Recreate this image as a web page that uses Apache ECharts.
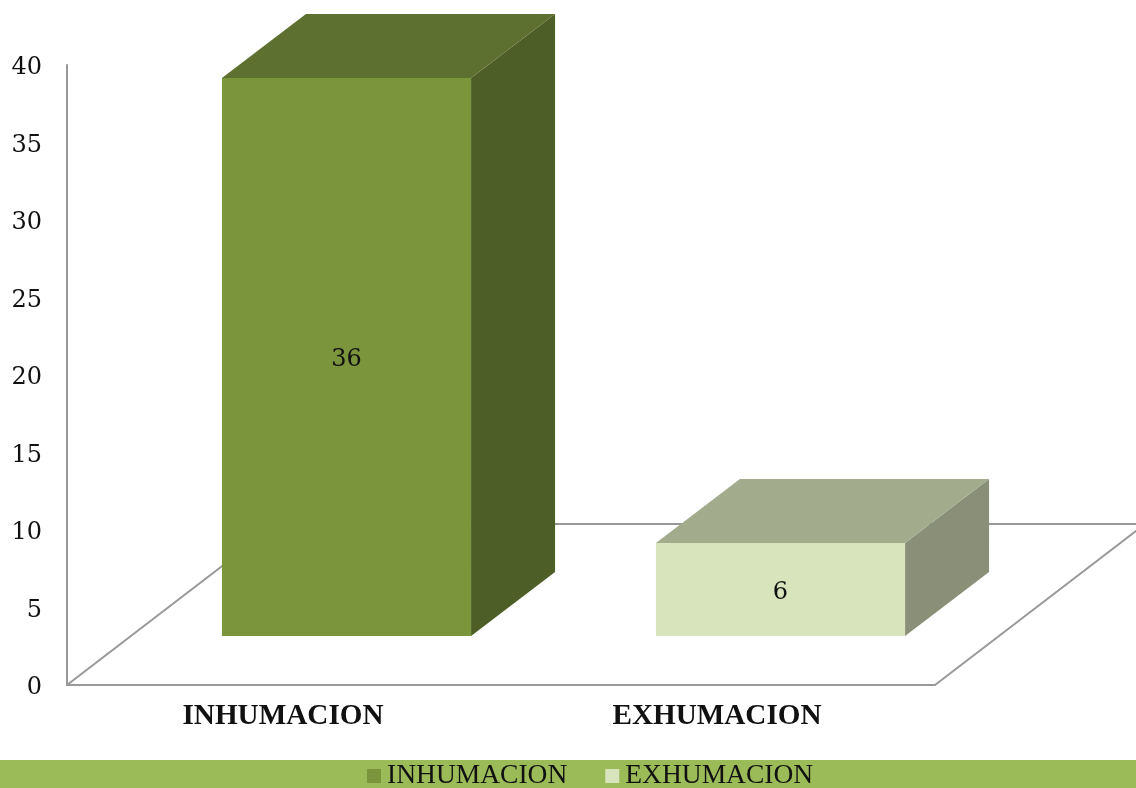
<!DOCTYPE html>
<html>
<head>
<meta charset="utf-8">
<style>
html, body { margin: 0; padding: 0; background: #fff; }
#chart { width: 1136px; height: 788px; }
</style>
<script src="https://cdn.jsdelivr.net/npm/echarts@6/dist/echarts.min.js"></script>
</head>
<body>
<div id="chart"></div>
<script>
const categories = ['INHUMACION', 'EXHUMACION'];
const inhumacion = [[categories[0], 36]];
const exhumacion = [[categories[1], 6]];

const NUM_FONT = 'DejaVu Serif';
const TEXT_FONT = 'Liberation Serif';
const LINE = '#999999';

// perspective offsets of the fake 3d box, in px
const FRONT_DX = 62.5, FRONT_DY = 49;
const DEPTH_DX = 84, DEPTH_DY = 64;
const FLOOR_DX = 210, FLOOR_DY = 161;
const BAR_RATIO = 0.574;

function boxRenderer(front, side, top) {
  return function (params, api) {
    const base = api.coord([api.value(0), 0]);
    const head = api.coord([api.value(0), api.value(1)]);
    const w = api.size([1, 0])[0] * BAR_RATIO;
    const x0 = base[0] + FRONT_DX - w / 2;
    const x1 = x0 + w;
    const y0 = base[1] - FRONT_DY;
    const y1 = head[1] - FRONT_DY;
    return {
      type: 'group',
      children: [
        { type: 'polygon', shape: { points: [[x1, y1], [x1 + DEPTH_DX, y1 - DEPTH_DY], [x1 + DEPTH_DX, y0 - DEPTH_DY], [x1, y0]] }, style: { fill: side } },
        { type: 'polygon', shape: { points: [[x0, y1], [x0 + DEPTH_DX, y1 - DEPTH_DY], [x1 + DEPTH_DX, y1 - DEPTH_DY], [x1, y1]] }, style: { fill: top } },
        { type: 'rect', shape: { x: x0, y: y1, width: w, height: y0 - y1 }, style: { fill: front } },
        {
          type: 'text',
          style: {
            text: String(api.value(1)),
            x: (x0 + x1) / 2,
            y: (y0 + y1) / 2 + 3,
            align: 'center',
            verticalAlign: 'middle',
            fontFamily: NUM_FONT,
            fontSize: 24,
            fill: '#111'
          }
        }
      ]
    };
  };
}

function floorRenderer(params, api) {
  const o = api.coord([0, 0]);
  const size = api.size([1, 0])[0];
  const x0 = o[0] - size / 2;
  const x1 = o[0] + size * 1.5;
  return {
    type: 'polyline',
    shape: {
      points: [
        [x0, o[1]],
        [x0 + FLOOR_DX, o[1] - FLOOR_DY],
        [x1 + FLOOR_DX, o[1] - FLOOR_DY],
        [x1, o[1]]
      ]
    },
    style: { fill: 'none', stroke: LINE, lineWidth: 2 }
  };
}

const chart = echarts.init(document.getElementById('chart'));
chart.setOption({
  animation: false,
  backgroundColor: '#fff',
  grid: { left: 67, right: 201, top: 65, bottom: 103 },
  graphic: [{
    type: 'rect',
    left: 0,
    top: 760,
    shape: { width: 1136, height: 28 },
    style: { fill: '#9BBB59' },
    z: 0
  }],
  legend: {
    data: categories,
    left: 362,
    top: 757,
    padding: 5,
    icon: 'rect',
    itemWidth: 14,
    itemHeight: 14,
    itemGap: 38,
    textStyle: { fontFamily: TEXT_FONT, fontSize: 27.5, color: '#111', padding: [0, 0, 0, 1] }
  },
  xAxis: {
    type: 'category',
    data: categories,
    axisLine: { show: true, lineStyle: { color: LINE, width: 2 } },
    axisTick: { show: false },
    axisLabel: { fontFamily: TEXT_FONT, fontWeight: 'bold', fontSize: 29.2, color: '#111', margin: 17, padding: [0, 2, 0, 0] }
  },
  yAxis: {
    type: 'value',
    min: 0,
    max: 40,
    interval: 5,
    axisLine: { show: true, lineStyle: { color: LINE, width: 2 } },
    axisTick: { show: false },
    splitLine: { show: false },
    axisLabel: { fontFamily: NUM_FONT, fontSize: 24, color: '#111', margin: 25, verticalAlign: 'top', lineHeight: 6 }
  },
  series: [
    { name: 'floor', type: 'custom', z: 1, data: [[categories[0], 0]], renderItem: floorRenderer, silent: true },
    { name: categories[0], type: 'custom', z: 2, data: inhumacion, itemStyle: { color: '#7B953C' }, renderItem: boxRenderer('#7B953C', '#4D5E26', '#5E7030') },
    { name: categories[1], type: 'custom', z: 3, data: exhumacion, itemStyle: { color: '#D7E4BC' }, renderItem: boxRenderer('#D7E4BC', '#8A9078', '#A2AC8D') }
  ]
});
</script>
</body>
</html>
